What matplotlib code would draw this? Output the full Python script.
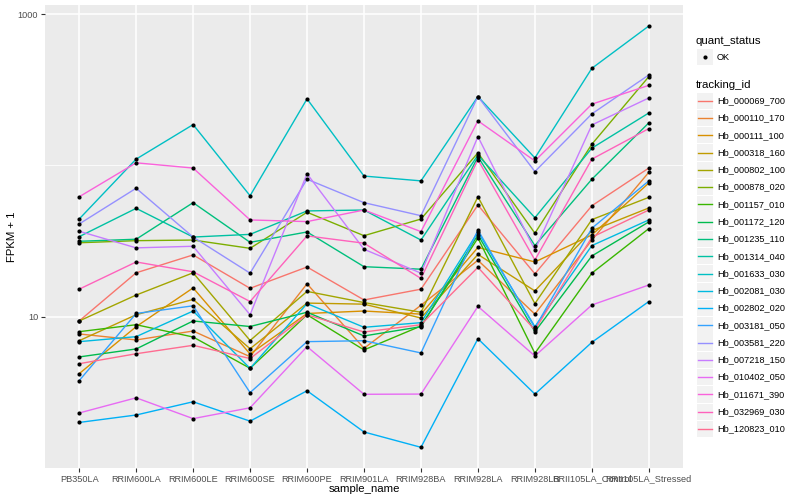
import matplotlib
matplotlib.use("Agg")
import matplotlib.pyplot as plt
from matplotlib.lines import Line2D
from matplotlib.patches import Rectangle
from matplotlib.ticker import FixedLocator, NullFormatter

plt.rcParams['font.family'] = ['Liberation Sans', 'DejaVu Sans']

samples = ["PB350LA", "RRIM600LA", "RRIM600LE", "RRIM600SE", "RRIM600PE",
           "RRIM901LA", "RRIM928BA", "RRIM928LA", "RRIM928LB",
           "RRII105LA_Control", "RRII105LA_Stressed"]

tracking_ids = ["Hb_000069_700", "Hb_000110_170", "Hb_000111_100", "Hb_000318_160",
                "Hb_000802_100", "Hb_000878_020", "Hb_001157_010", "Hb_001172_120",
                "Hb_001235_110", "Hb_001314_040", "Hb_001633_030", "Hb_002081_030",
                "Hb_002802_020", "Hb_003181_050", "Hb_003581_220", "Hb_007218_150",
                "Hb_010402_050", "Hb_011671_390", "Hb_032969_030", "Hb_120823_010"]

colors = ["#F8766D", "#EA8331", "#D89000", "#C09B00", "#A3A500", "#7CAE00", "#39B600",
          "#00BB4E", "#00BF7D", "#00C1A3", "#00BFC4", "#00BAE0", "#00B0F6", "#35A2FF",
          "#9590FF", "#C77CFF", "#E76BF3", "#FA62DB", "#FF62BC", "#FF6C91"]

# FPKM + 1 per sample (order of `samples`)
hb_000069_700 = [9.37, 19.5, 25.6, 15.4, 21.3, 12.9, 15.2, 54.7, 19.2, 54.1, 96]
hb_000110_170 = [7.69, 7.02, 8.04, 5.44, 16.5, 6.18, 11.9, 23.6, 10.4, 32.1, 90]
hb_000111_100 = [4.20, 8.59, 15.5, 5.67, 10.5, 10.9, 10.4, 28.7, 23.0, 34.7, 76.5]
hb_000318_160 = [6.94, 10.3, 13.0, 6.14, 12.3, 12.1, 9.8, 25.8, 14.8, 37.0, 52.3]
hb_000802_100 = [9.37, 13.9, 19.5, 6.96, 14.7, 12.4, 10.7, 62, 12.2, 43.8, 61.5]
hb_000878_020 = [30.8, 31.8, 32.1, 28.3, 49.0, 34.3, 44.2, 121, 35.6, 138, 386]
hb_001157_010 = [7.96, 8.85, 7.34, 4.56, 10.3, 6.03, 8.68, 33.1, 5.73, 19.4, 38.2]
hb_001172_120 = [5.42, 6.12, 9.37, 8.61, 10.7, 7.46, 8.59, 34.7, 7.96, 25.2, 42.3]
hb_001235_110 = [31.5, 32.5, 56.7, 31.0, 36.3, 21.4, 20.6, 114, 29.5, 81, 191]
hb_001314_040 = [33.8, 52.0, 33.6, 35.0, 50.0, 50.7, 32.1, 117, 45.1, 130, 222]
hb_001633_030 = [44.2, 110, 186, 63, 275, 85, 79, 285, 112, 438, 834]
hb_002081_030 = [6.84, 7.38, 10.9, 4.55, 12.2, 8.51, 9.13, 36.3, 8.59, 29.5, 43.6]
hb_002802_020 = [2.00, 2.24, 2.74, 2.04, 3.24, 1.73, 1.37, 7.15, 3.08, 6.77, 12.6]
hb_003181_050 = [3.78, 10.5, 11.8, 3.15, 6.84, 6.94, 5.76, 37.4, 8.42, 38.4, 79]
hb_003581_220 = [41.0, 70.6, 33.6, 19.4, 81, 56.7, 46.5, 285, 91, 219, 396]
hb_007218_150 = [36.7, 28.5, 29.2, 10.3, 88, 27.9, 19.4, 155, 27.6, 185, 279]
hb_010402_050 = [2.31, 2.91, 2.12, 2.50, 6.34, 3.07, 3.08, 11.7, 5.50, 11.95, 16.2]
hb_011671_390 = [62, 104, 96, 43.6, 42.5, 50.7, 36.5, 197, 107, 254, 338]
hb_032969_030 = [15.2, 23.0, 19.8, 12.6, 34.2, 30.6, 17.9, 109, 23.7, 110, 175]
hb_120823_010 = [4.89, 5.69, 6.47, 5.29, 10.3, 7.92, 8.85, 21.2, 8.17, 33.5, 50.7]

series = [hb_000069_700, hb_000110_170, hb_000111_100, hb_000318_160, hb_000802_100,
          hb_000878_020, hb_001157_010, hb_001172_120, hb_001235_110, hb_001314_040,
          hb_001633_030, hb_002081_030, hb_002802_020, hb_003181_050, hb_003581_220,
          hb_007218_150, hb_010402_050, hb_011671_390, hb_032969_030, hb_120823_010]

W, H = 800, 500
fig = plt.figure(figsize=(8, 5), dpi=100)
fig.patch.set_facecolor("white")

def fx(px):
    return px / W

def fy(py):
    return 1 - py / H

ax = fig.add_axes([fx(45), fy(468), (683 - 45) / W, (468 - 5) / H])
ax.set_facecolor("#EBEBEB")
for s in ax.spines.values():
    s.set_visible(False)

xpos = list(range(len(samples)))
for vals, c in zip(series, colors):
    ax.plot(xpos, vals, color=c, lw=1.0, zorder=2, solid_capstyle="butt")
for vals in series:
    ax.plot(xpos, vals, ls="none", marker="o", ms=3.0, mfc="black", mec="black",
            mew=0, zorder=3)

ax.set_yscale("log")
ax.set_ylim(1.0, 1148)
ax.set_xlim(-0.6, len(samples) - 0.4)
ax.yaxis.set_major_locator(FixedLocator([10, 1000]))
ax.yaxis.set_minor_locator(FixedLocator([100]))
ax.yaxis.set_minor_formatter(NullFormatter())
ax.set_yticklabels(["10", "1000"])
ax.set_xticks(xpos)
ax.set_xticklabels(samples)

ax.grid(True, which="major", color="white", lw=1.1)
ax.grid(True, which="minor", axis="y", color="white", lw=0.55)
ax.set_axisbelow(True)
ax.tick_params(axis="both", which="major", length=2.8, width=0.8, color="#333333",
               labelcolor="#4D4D4D", labelsize=6.6, pad=2)
ax.tick_params(axis="y", which="minor", length=0)

ax.set_xlabel("sample_name", fontsize=8.2, color="black", va="center")
ax.set_ylabel("FPKM + 1", fontsize=8.2, color="black", va="center")
ax.xaxis.set_label_coords((364 - 45) / 638, (468 - 489.5) / 463)
ax.yaxis.set_label_coords((12 - 45) / 638, (468 - 237) / 463)

# legend: quant_status
fig.text(fx(696), fy(41), "quant_status", fontsize=8.2, va="center", ha="left")
fig.add_artist(Rectangle((fx(697), fy(65)), 16 / W, 16 / H, transform=fig.transFigure,
                         facecolor="#F2F2F2", edgecolor="none"))
fig.add_artist(Line2D([fx(705)], [fy(57)], marker="o", ms=3.0, mfc="black", mec="black",
                      mew=0, ls="none", transform=fig.transFigure))
fig.text(fx(717), fy(57), "OK", fontsize=6.6, va="center", ha="left")

# legend: tracking_id
fig.text(fx(696), fy(84.5), "tracking_id", fontsize=8.2, va="center", ha="left")
y0, dy = 100.7, 17.28
for i, (tid, c) in enumerate(zip(tracking_ids, colors)):
    yc = y0 + i * dy
    fig.add_artist(Rectangle((fx(697), fy(yc + 8.2)), 16 / W, 16.4 / H,
                             transform=fig.transFigure, facecolor="#F2F2F2",
                             edgecolor="none"))
    fig.add_artist(Line2D([fx(698), fx(712)], [fy(yc), fy(yc)], color=c, lw=1.0,
                          transform=fig.transFigure))
    fig.text(fx(717), fy(yc), tid, fontsize=6.6, va="center", ha="left")

fig.savefig("out.png", dpi=100)
